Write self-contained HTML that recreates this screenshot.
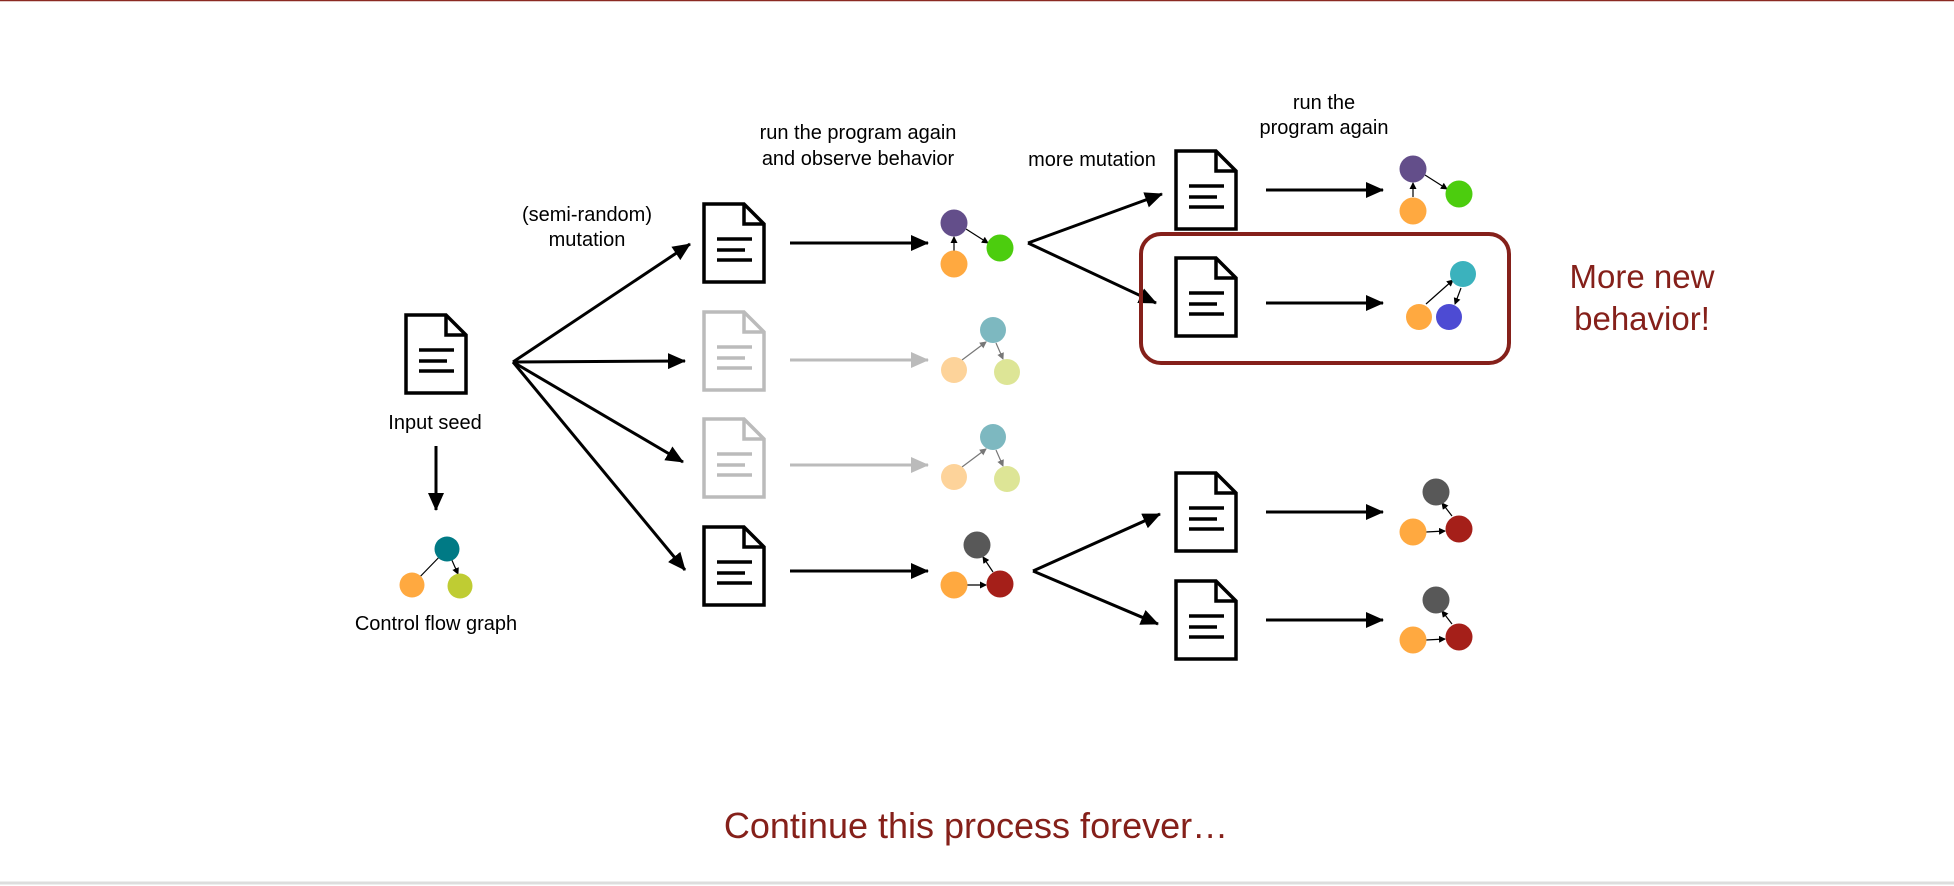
<!DOCTYPE html>
<html><head><meta charset="utf-8"><style>
html,body{margin:0;padding:0;background:#fff;}
svg{display:block;}
text{font-family:"Liberation Sans",Arial,sans-serif;}
</style></head><body>
<svg width="1954" height="886" viewBox="0 0 1954 886" xmlns="http://www.w3.org/2000/svg">
<defs>
<marker id="abig" markerWidth="18" markerHeight="16" refX="17" refY="8" orient="auto" markerUnits="userSpaceOnUse" viewBox="0 0 18 16"><path d="M0,0 L18,8 L0,16 z" fill="#000"/></marker>
<marker id="agray" markerWidth="18" markerHeight="16" refX="17" refY="8" orient="auto" markerUnits="userSpaceOnUse" viewBox="0 0 18 16"><path d="M0,0 L18,8 L0,16 z" fill="#bbb"/></marker>
<marker id="as" markerWidth="7" markerHeight="7" refX="6" refY="3.5" orient="auto" markerUnits="userSpaceOnUse" viewBox="0 0 7 7"><path d="M0,0 L7,3.5 L0,7 z" fill="#000"/></marker>
<marker id="asg" markerWidth="7" markerHeight="7" refX="6" refY="3.5" orient="auto" markerUnits="userSpaceOnUse" viewBox="0 0 7 7"><path d="M0,0 L7,3.5 L0,7 z" fill="#777"/></marker>
<g id="doc" fill="#fff" stroke-width="3.5" stroke-linejoin="miter">
<path d="M0,0 H40 L60,20 V78 H0 Z"/>
<path d="M40,0 V20 H60" fill="none"/>
<path d="M13,35 H48 M13,46 H41 M13,56 H48" fill="none"/>
</g>
</defs>
<line x1="0" y1="0.5" x2="1954" y2="0.5" stroke="#8b2a22" stroke-width="1.5"/>
<line x1="0" y1="883" x2="1954" y2="883" stroke="#ddd" stroke-width="3"/>

<use href="#doc" x="406" y="315" stroke="#000"/>
<text x="435" y="429" font-size="20" text-anchor="middle" fill="#000">Input seed</text>
<line x1="436" y1="446" x2="436" y2="510" stroke="#000" stroke-width="3" marker-end="url(#abig)"/>
<line x1="412" y1="585" x2="447" y2="549" stroke="#000" stroke-width="1.2" marker-end="url(#as)"/>
<line x1="447" y1="549" x2="458" y2="574" stroke="#000" stroke-width="1.2" marker-end="url(#as)"/>
<circle cx="447" cy="549" r="12.5" fill="#007a85"/>
<circle cx="412" cy="585" r="12.5" fill="#ffa940"/>
<circle cx="460" cy="586" r="12.5" fill="#bfcc33"/>
<text x="436" y="630" font-size="20" text-anchor="middle" fill="#000">Control flow graph</text>

<text x="587" y="221" font-size="20" text-anchor="middle" fill="#000">(semi-random)</text>
<text x="587" y="246" font-size="20" text-anchor="middle" fill="#000">mutation</text>

<g stroke="#000" stroke-width="3" fill="none">
<line x1="513" y1="362" x2="690" y2="244" marker-end="url(#abig)"/>
<line x1="513" y1="362" x2="685" y2="361" marker-end="url(#abig)"/>
<line x1="513" y1="362" x2="683" y2="462" marker-end="url(#abig)"/>
<line x1="513" y1="362" x2="685" y2="570" marker-end="url(#abig)"/>
</g>

<use href="#doc" x="704" y="204" stroke="#000"/>
<use href="#doc" x="704" y="312" stroke="#bbb"/>
<use href="#doc" x="704" y="419" stroke="#bbb"/>
<use href="#doc" x="704" y="527" stroke="#000"/>

<line x1="790" y1="243" x2="928" y2="243" stroke="#000" stroke-width="3" marker-end="url(#abig)"/>
<line x1="790" y1="360" x2="928" y2="360" stroke="#bbb" stroke-width="3" marker-end="url(#agray)"/>
<line x1="790" y1="465" x2="928" y2="465" stroke="#bbb" stroke-width="3" marker-end="url(#agray)"/>
<line x1="790" y1="571" x2="928" y2="571" stroke="#000" stroke-width="3" marker-end="url(#abig)"/>

<text x="858" y="139" font-size="20" text-anchor="middle" fill="#000">run the program again</text>
<text x="858" y="165" font-size="20" text-anchor="middle" fill="#000">and observe behavior</text>

<line x1="954" y1="251" x2="954" y2="237" stroke="#000" stroke-width="1.2" marker-end="url(#as)"/>
<line x1="966" y1="229" x2="988" y2="243" stroke="#000" stroke-width="1.2" marker-end="url(#as)"/>
<circle cx="954" cy="223" r="13.5" fill="#634e8a"/>
<circle cx="1000" cy="248" r="13.5" fill="#4ccd0e"/>
<circle cx="954" cy="264" r="13.5" fill="#ffa940"/>
<g>
<line x1="962" y1="360" x2="986" y2="342" stroke="#777" stroke-width="1.2" marker-end="url(#asg)"/>
<line x1="996" y1="343" x2="1003" y2="359" stroke="#777" stroke-width="1.2" marker-end="url(#asg)"/>
<circle cx="993" cy="330" r="13" fill="#7db8c0"/>
<circle cx="954" cy="370" r="13" fill="#fdd39a"/>
<circle cx="1007" cy="372" r="13" fill="#dde596"/>
</g>
<g transform="translate(0,107)">
<line x1="962" y1="360" x2="986" y2="342" stroke="#777" stroke-width="1.2" marker-end="url(#asg)"/>
<line x1="996" y1="343" x2="1003" y2="359" stroke="#777" stroke-width="1.2" marker-end="url(#asg)"/>
<circle cx="993" cy="330" r="13" fill="#7db8c0"/>
<circle cx="954" cy="370" r="13" fill="#fdd39a"/>
<circle cx="1007" cy="372" r="13" fill="#dde596"/>
</g>
<line x1="967" y1="585" x2="986" y2="585" stroke="#000" stroke-width="1.2" marker-end="url(#as)"/>
<line x1="993" y1="572" x2="983" y2="557" stroke="#000" stroke-width="1.2" marker-end="url(#as)"/>
<circle cx="977" cy="545" r="13.5" fill="#585858"/>
<circle cx="954" cy="585" r="13.5" fill="#ffa940"/>
<circle cx="1000" cy="584" r="13.5" fill="#a51f19"/>

<text x="1092" y="166" font-size="20" text-anchor="middle" fill="#000">more mutation</text>
<text x="1324" y="109" font-size="20" text-anchor="middle" fill="#000">run the</text>
<text x="1324" y="134" font-size="20" text-anchor="middle" fill="#000">program again</text>
<g stroke="#000" stroke-width="3" fill="none">
<line x1="1028" y1="243" x2="1162" y2="194" marker-end="url(#abig)"/>
<line x1="1028" y1="243" x2="1156" y2="303" marker-end="url(#abig)"/>
<line x1="1033" y1="571" x2="1160" y2="514" marker-end="url(#abig)"/>
<line x1="1033" y1="571" x2="1158" y2="624" marker-end="url(#abig)"/>
</g>

<rect x="1141" y="234" width="368" height="129" rx="20" ry="20" fill="none" stroke="#85201a" stroke-width="4"/>
<text x="1642" y="288" font-size="33" text-anchor="middle" fill="#85201a">More new</text>
<text x="1642" y="330" font-size="33" text-anchor="middle" fill="#85201a">behavior!</text>

<use href="#doc" x="1176" y="151" stroke="#000"/>
<use href="#doc" x="1176" y="258" stroke="#000"/>
<use href="#doc" x="1176" y="473" stroke="#000"/>
<use href="#doc" x="1176" y="581" stroke="#000"/>

<g stroke="#000" stroke-width="3">
<line x1="1266" y1="190" x2="1383" y2="190" marker-end="url(#abig)"/>
<line x1="1266" y1="303" x2="1383" y2="303" marker-end="url(#abig)"/>
<line x1="1266" y1="512" x2="1383" y2="512" marker-end="url(#abig)"/>
<line x1="1266" y1="620" x2="1383" y2="620" marker-end="url(#abig)"/>
</g>

<line x1="1413" y1="197" x2="1413" y2="183" stroke="#000" stroke-width="1.2" marker-end="url(#as)"/>
<line x1="1425" y1="175" x2="1447" y2="189" stroke="#000" stroke-width="1.2" marker-end="url(#as)"/>
<circle cx="1413" cy="169" r="13.5" fill="#634e8a"/>
<circle cx="1459" cy="194" r="13.5" fill="#4ccd0e"/>
<circle cx="1413" cy="211" r="13.5" fill="#ffa940"/>
<line x1="1426" y1="304" x2="1453" y2="280" stroke="#000" stroke-width="1.2" marker-end="url(#as)"/>
<line x1="1461" y1="288" x2="1455" y2="304" stroke="#000" stroke-width="1.2" marker-end="url(#as)"/>
<circle cx="1463" cy="274" r="13" fill="#3bb2bd"/>
<circle cx="1419" cy="317" r="13" fill="#ffa940"/>
<circle cx="1449" cy="317" r="13" fill="#4d4bd3"/>
<g>
<line x1="1426" y1="532" x2="1445" y2="531" stroke="#000" stroke-width="1.2" marker-end="url(#as)"/>
<line x1="1452" y1="516" x2="1442" y2="503" stroke="#000" stroke-width="1.2" marker-end="url(#as)"/>
<circle cx="1436" cy="492" r="13.5" fill="#585858"/>
<circle cx="1413" cy="532" r="13.5" fill="#ffa940"/>
<circle cx="1459" cy="529" r="13.5" fill="#a51f19"/>
</g>
<g transform="translate(0,108)">
<line x1="1426" y1="532" x2="1445" y2="531" stroke="#000" stroke-width="1.2" marker-end="url(#as)"/>
<line x1="1452" y1="516" x2="1442" y2="503" stroke="#000" stroke-width="1.2" marker-end="url(#as)"/>
<circle cx="1436" cy="492" r="13.5" fill="#585858"/>
<circle cx="1413" cy="532" r="13.5" fill="#ffa940"/>
<circle cx="1459" cy="529" r="13.5" fill="#a51f19"/>
</g>

<text x="976" y="838" font-size="36" text-anchor="middle" fill="#85201a">Continue this process forever…</text>
</svg>
</body></html>
